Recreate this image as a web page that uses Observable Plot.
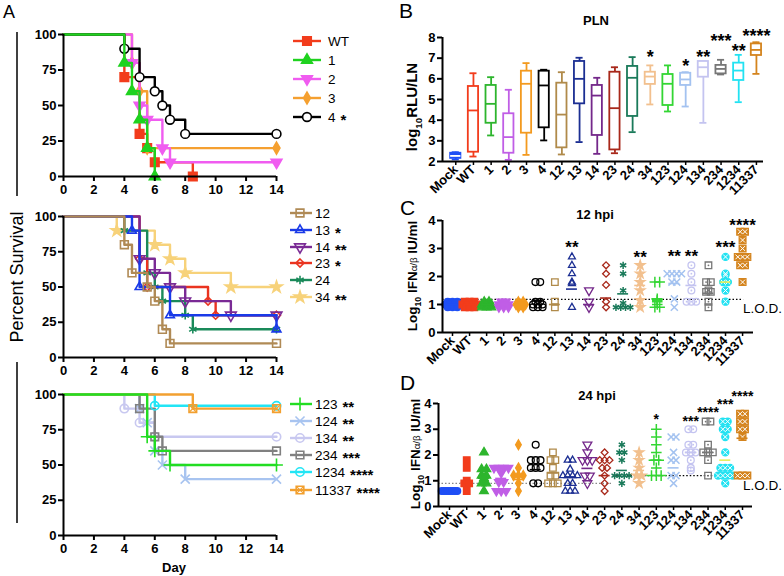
<!DOCTYPE html>
<html>
<head>
<meta charset="utf-8">
<script src="https://cdn.jsdelivr.net/npm/d3@7"></script>
<script src="https://cdn.jsdelivr.net/npm/@observablehq/plot@0.6"></script>
<style>
html,body{margin:0;padding:0;background:#fff;}
#root{position:relative;width:784px;height:576px;overflow:hidden;background:#fff;}
#root svg{position:absolute;left:0;top:0;}
</style>
</head>
<body>
<div id="root"></div>
<script>
// ================= DATA =================
// Panel A: survival curves, [day, percent survival]
const survWT    = [[0,100],[4,70],[5,30],[5.5,20],[6,10],[8.5,0]];
const surv1     = [[0,100],[4,80],[4.5,60],[5,40],[5.5,20],[6,0]];
const surv2     = [[0,100],[4.5,80],[5,50],[5.5,40],[6.5,20],[7,10],[14,10]];
const surv3     = [[0,100],[4.5,80],[5,60],[5.5,20],[14,20]];
const surv4     = [[0,100],[4,90],[5,70],[6,60],[6.5,50],[7,40],[8,30],[14,30]];
const surv12    = [[0,100],[4,80],[4.5,60],[5.5,50],[6,40],[6.5,20],[7,10],[14,10]];
const surv13    = [[0,100],[4.5,90],[5,50],[7,30],[14,20]];
const surv14    = [[0,100],[5,70],[6,60],[7,50],[8,40],[11,30],[14,30]];
const surv23    = [[0,100],[5,70],[5.5,50],[9.5,40],[10,30],[14,30]];
const surv24    = [[0,100],[4,90],[5.5,60],[6,50],[6.5,40],[8,30],[8.5,20],[14,20]];
const surv34    = [[0,100],[3.5,90],[6,80],[7,70],[8,60],[11,50],[14,50]];
const surv123   = [[0,100],[5.5,70],[6,60],[7,50],[14,50]];
const surv124   = [[0,100],[5,90],[5.5,80],[6,60],[6.5,50],[8,40],[14,40]];
const surv134   = [[0,100],[4,90],[5,80],[6,70],[14,70]];
const surv234   = [[0,100],[5,90],[6,70],[6.5,60],[14,60]];
const surv1234  = [[0,100],[6,92],[14,92]];
const surv11337 = [[0,100],[8.5,90],[14,90]];
const survTicksX = [0,2,4,6,8,10,12,14];
const survTicksY = [0,25,50,75,100];

// Panels B-D categories
const cats = ["Mock","WT","1","2","3","4","12","13","14","23","24","34","123","124","134","234","1234","11337"];

// Panel B: PLN log10 RLU/LN box plots
const boxMin = [2.10,2.24,3.26,2.08,2.32,3.02,2.34,2.94,2.37,2.40,3.42,4.76,4.42,4.66,3.87,6.21,4.87,6.24];
const boxQ1  = [2.15,2.45,3.85,2.40,3.37,3.63,2.66,4.79,3.26,2.56,4.18,5.73,4.71,5.68,6.08,6.24,5.92,7.13];
const boxMed = [2.27,4.47,4.79,3.18,5.76,5.68,4.27,6.00,5.19,4.58,6.05,6.11,5.76,5.97,6.56,6.48,6.40,7.40];
const boxQ3  = [2.40,5.63,5.68,4.31,6.37,6.37,5.79,6.84,5.68,6.32,6.60,6.32,6.21,6.27,6.84,6.65,6.76,7.69];
const boxMax = [2.45,6.27,6.08,5.47,6.76,6.44,6.32,7.02,6.05,6.56,7.05,6.65,6.65,6.32,6.84,6.92,7.16,7.77];
const starsBIdx  = [11,13,14,15,16,17];
const starsBText = ["*","*","**","***","**","****"];
const starsBY    = [7.22,6.79,7.22,8.0,7.52,8.24];

// Panel C: 12 hpi log10 IFN
const ifn12 = [
  [1.1,1.1,1.1,1.0,1.0,1.0,1.0,0.9,0.9,0.9],
  [1.1,1.1,1.1,1.0,1.0,1.0,1.0,0.9,0.9,0.9],
  [1.1,1.1,1.0,1.0,1.0,0.9,0.9,0.9],
  [1.1,1.1,1.0,1.0,1.0,0.9,0.9,0.9],
  [1.1,1.1,1.0,1.0,1.0,0.9,0.9],
  [1.8,1.8,1.1,1.1,1.0,1.0,1.0,0.9,0.9,0.9],
  [1.8,1.1,0.9],
  [2.7,2.4,2.1,1.8,1.75,0.9],
  [1.5,1.1,0.9],
  [2.4,2.1,1.7,1.1,0.9],
  [2.4,2.1,1.5,1.05,0.9,0.9,0.9,0.9],
  [2.4,2.1,1.8,1.5,1.15,0.9],
  [1.8,1.8,1.2,1.15,1.1,1.0,0.9,0.9],
  [2.1,2.1,2.1,2.1,1.8,1.8,1.2,0.9],
  [2.4,2.1,1.8,1.5,1.1,1.1,1.1],
  [2.4,1.8,1.8,1.5,1.45,1.45,1.1,0.9],
  [2.7,2.1,2.05,1.8,1.8,1.5,1.1],
  [3.6,3.6,3.3,3.0,2.7,2.7,2.7,2.4,2.4,1.8]
];
const ifn12Mean = [1.0,1.0,1.0,1.0,1.0,1.15,1.0,1.55,1.0,1.23,1.38,1.68,1.2,1.75,1.68,1.4,1.8,2.8];
const lod12 = 1.18;
const stars12Idx  = [7,11,13,14,16,17];
const stars12Text = ["**","**","**","**","***","****"];
const stars12Y    = [3.18,2.82,2.86,2.86,3.18,3.96];

// Panel D: 24 hpi log10 IFN
const ifn24 = [
  [0.6,0.6,0.6,0.6,0.6,0.6,0.6,0.6],
  [1.8,1.5,1.0,0.9,0.9,0.6],
  [2.1,1.45,1.45,1.2,1.2,1.1,0.9,0.9,0.6],
  [1.5,1.5,1.5,1.5,1.3,0.95,0.95,0.6,0.6,0.6],
  [2.4,1.5,1.2,1.2,1.2,0.9,0.6],
  [2.4,1.8,1.8,1.8,1.5,1.5,1.5,0.9,0.9],
  [2.1,1.8,1.8,1.5,1.2,1.2,0.9,0.9,0.9],
  [1.8,1.8,1.45,1.2,1.2,1.2,1.2,0.9,0.9,0.6,0.6,0.6],
  [2.4,2.1,1.8,1.8,1.8,1.2,1.2,0.9],
  [2.1,1.8,1.8,1.8,1.5,1.5,1.2,0.9,0.6],
  [2.4,2.1,2.1,1.8,1.2,1.2,1.2,1.2,0.9],
  [2.1,1.8,1.5,1.2,1.2,0.9],
  [3.0,2.7,2.4,2.1,1.8,1.8,1.5,1.2,1.2,1.2],
  [2.7,2.7,2.1,1.8,1.8,1.2,1.2,0.9],
  [3.0,3.0,2.4,2.4,2.1,2.1,2.1,1.8,1.5,1.4],
  [3.3,3.3,2.4,2.1,2.1,2.1,1.8,1.2],
  [3.3,3.3,3.0,3.0,2.7,2.1,1.5,1.5,1.5,1.2,1.2,1.2,1.2,0.9],
  [3.6,3.6,3.3,3.3,3.0,3.0,2.7,1.2,1.2,1.2]
];
const ifn24Mean = [0.6,0.93,1.1,1.09,1.05,1.43,1.3,1.15,1.48,1.2,1.4,1.4,1.8,1.5,2.1,2.1,1.8,2.65];
const lod24 = [0.9, 1.2];          // two detection limits
const lod24Split = 9.5;            // category boundary between the two limits
const stars24Idx  = [12,14,15,16,17];
const stars24Text = ["*","***","****","***","****"];
const stars24Y    = [3.53,3.46,3.8,4.1,4.42];

// ================= STYLE =================
const FONT = "'Liberation Sans', Arial, Helvetica, sans-serif";
const triDown = {draw(ctx, size){ const s3=Math.sqrt(3); const y=-Math.sqrt(size/(3*s3)); ctx.moveTo(0,-2*y); ctx.lineTo(-s3*y,y); ctx.lineTo(s3*y,y); ctx.closePath(); }};

const catColor = ["#1f4ff5","#f23c1c","#2db52d","#c05ee6","#f39a1f","#000000","#b08a4a","#1c2f93","#74288a","#a8281a","#1a7a5a","#f2c08e","#33d633","#a3c2f0","#c4c4f0","#777777","#22e2f2","#d4841e"];
const meanColor = catColor.map((c,i)=> cats[i]==="1234" ? "#e4ee5a" : c);
const catSym = [d3.symbolCircle,d3.symbolSquare,d3.symbolTriangle,triDown,d3.symbolDiamond,d3.symbolCircle,d3.symbolSquare,d3.symbolTriangle2,triDown,d3.symbolDiamond2,d3.symbolAsterisk,d3.symbolStar,d3.symbolPlus,d3.symbolTimes,d3.symbolCircle,d3.symbolSquare,d3.symbolCircle,d3.symbolSquare];
const catR   = [3.4,3.7,3.2,3.2,3.0,3.4,3.7,3.3,3.3,3.1,3.4,3.0,3.5,3.3,3.4,3.7,3.5,3.8];
const catFilled = [1,1,1,1,1,0,0,0,0,0,0,1,0,0,0,0,1,1];
const catInner = {"134":"dot","234":"dot","1234":"times","11337":"times"};

const seriesTop = [
  {name:"WT", data:survWT, color:"#f23c1c", sym:d3.symbolSquare, fill:"c", r:4.8, stars:""},
  {name:"1",  data:surv1,  color:"#1fd21f", sym:d3.symbolTriangle, fill:"c", r:4.0, stars:""},
  {name:"2",  data:surv2,  color:"#f05cf0", sym:triDown, fill:"c", r:4.0, stars:""},
  {name:"3",  data:surv3,  color:"#f5a030", sym:d3.symbolDiamond, fill:"c", r:3.6, stars:""},
  {name:"4",  data:surv4,  color:"#000000", sym:d3.symbolCircle, fill:"white", r:4.4, stars:"*"}
];
const orderTop = ["WT","3","2","4","1"];
const seriesMid = [
  {name:"12", data:surv12, color:"#b08a55", sym:d3.symbolSquare, fill:"none", r:4.4, stars:""},
  {name:"13", data:surv13, color:"#1a3ae8", sym:d3.symbolTriangle2, fill:"none", r:4.2, stars:"*"},
  {name:"14", data:surv14, color:"#7a2a95", sym:triDown, fill:"none", r:4.0, stars:"**"},
  {name:"23", data:surv23, color:"#ea3420", sym:d3.symbolDiamond2, fill:"none", r:3.6, stars:"*"},
  {name:"24", data:surv24, color:"#1a8a5a", sym:d3.symbolAsterisk, fill:"none", r:4.0, stars:""},
  {name:"34", data:surv34, color:"#f7d27a", sym:d3.symbolStar, fill:"c", r:3.6, stars:"**"}
];
const orderMid = ["34","24","23","14","13","12"];
const seriesBot = [
  {name:"123",  data:surv123,  color:"#22dd22", sym:d3.symbolPlus, fill:"none", r:4.2, stars:"**"},
  {name:"124",  data:surv124,  color:"#a8c4f0", sym:d3.symbolTimes, fill:"none", r:4.2, stars:"**"},
  {name:"134",  data:surv134,  color:"#c8c8f0", sym:d3.symbolCircle, fill:"none", r:4.2, stars:"**"},
  {name:"234",  data:surv234,  color:"#808080", sym:d3.symbolSquare, fill:"none", r:4.3, stars:"***"},
  {name:"1234", data:surv1234, color:"#22e5f5", sym:d3.symbolCircle, fill:"none", r:4.2, stars:"****"},
  {name:"11337",data:surv11337,color:"#f2a030", sym:d3.symbolSquare, fill:"none", r:4.3, stars:"****", inner:true}
];
const orderBot = ["124","134","234","1234","11337","123"];

const root = document.getElementById("root");
function base(L,R,T,B){
  return {width:784,height:576,marginLeft:L,marginRight:784-R,marginTop:T,marginBottom:576-B,
    color:{type:"identity"},
    style:{background:"transparent",overflow:"visible",fontFamily:FONT,fontSize:"13px",fontWeight:"bold",color:"#000"}};
}
const axisTxt = {fontSize:13, fontWeight:"bold", fontFamily:FONT};
const intFmt = d => String(d);

// ================= PANEL A =================
function survivalPlot(series, order, L,R,T,B){
  const marks = [];
  for (const n of order){
    const s = series.find(d=>d.name===n);
    marks.push(Plot.line(s.data,{x:d=>d[0],y:d=>d[1],curve:"step-after",stroke:s.color,strokeWidth:2.4}));
    const pts = s.data.slice(1);
    marks.push(Plot.dot(pts,{x:d=>d[0],y:d=>d[1],symbol:s.sym,r:s.r,
      fill:s.fill==="c"?s.color:s.fill,stroke:s.color,strokeWidth:1.6}));
    if (s.inner) marks.push(Plot.dot(pts,{x:d=>d[0],y:d=>d[1],symbol:d3.symbolTimes,r:3.0,stroke:s.color,strokeWidth:1.2}));
  }
  marks.push(
    Plot.ruleX([0],{stroke:"#000",strokeWidth:2}),
    Plot.ruleY([0],{stroke:"#000",strokeWidth:2}),
    Plot.axisY({ticks:survTicksY,tickFormat:intFmt,tickSize:5,tickPadding:2,strokeWidth:2,label:null,...axisTxt}),
    Plot.axisX({ticks:survTicksX,tickFormat:intFmt,tickSize:5,tickPadding:3,strokeWidth:2,label:null,...axisTxt})
  );
  return Plot.plot({...base(L,R,T,B),x:{domain:[0,14]},y:{domain:[0,100]},marks});
}
root.append(survivalPlot(seriesTop,orderTop,63,276,34,176));
root.append(survivalPlot(seriesMid,orderMid,63,276,216,357));
root.append(survivalPlot(seriesBot,orderBot,63,276,394,535));

// ================= PANEL B =================
{
  const rows = cats.map((c,i)=>({i,min:boxMin[i],q1:boxQ1[i],med:boxMed[i],q3:boxQ3[i],max:boxMax[i]}));
  const stars = starsBIdx.map((i,k)=>({i,y:starsBY[k],t:starsBText[k]}));
  const xd = [-0.75,17.4];
  const hw = 0.29, cw = 0.2;
  const col = d=>catColor[d.i];
  root.append(Plot.plot({...base(442,763,37,161),x:{domain:xd},y:{domain:[2,8]},marks:[
    Plot.ruleX(rows,{x:"i",y1:"min",y2:"q1",stroke:col,strokeWidth:1.8}),
    Plot.ruleX(rows,{x:"i",y1:"q3",y2:"max",stroke:col,strokeWidth:1.8}),
    Plot.ruleY(rows,{y:"min",x1:d=>d.i-cw,x2:d=>d.i+cw,stroke:col,strokeWidth:1.8}),
    Plot.ruleY(rows,{y:"max",x1:d=>d.i-cw,x2:d=>d.i+cw,stroke:col,strokeWidth:1.8}),
    Plot.rect(rows,{x1:d=>d.i-hw,x2:d=>d.i+hw,y1:"q1",y2:"q3",fill:d=>d.i===0?catColor[0]:"white",stroke:col,strokeWidth:1.8}),
    Plot.ruleY(rows,{y:"med",x1:d=>d.i-hw,x2:d=>d.i+hw,stroke:d=>d.i===0?"white":catColor[d.i],strokeWidth:1.8}),
    Plot.ruleX([xd[0]],{stroke:"#000",strokeWidth:2}),
    Plot.ruleY([2],{stroke:"#000",strokeWidth:2}),
    Plot.axisY({ticks:[2,3,4,5,6,7,8],tickFormat:intFmt,tickSize:5,tickPadding:2,strokeWidth:2,label:null,...axisTxt}),
    Plot.axisX({ticks:d3.range(cats.length),tickFormat:i=>cats[i],tickRotate:-45,tickSize:4,tickPadding:2,strokeWidth:1.5,label:null,...axisTxt}),
    Plot.text(stars,{x:"i",y:"y",text:"t",fontSize:18,fontWeight:"bold",dy:4})
  ]}));
}

// ================= PANELS C & D =================
function spreadRows(valsList){
  const rows = [];
  valsList.forEach((vals,i)=>{
    for (const [v,arr] of d3.groups(vals,v=>v)){
      const k = arr.length;
      const step = k>1 ? Math.min(0.28,0.9/(k-1)) : 0;
      arr.forEach((_,j)=>rows.push({i,x:i+(j-(k-1)/2)*step,y:v}));
    }
  });
  return rows;
}
function scatterPlot(valsList, means, lodRules, stars, xd, L,R,T,B, starSize){
  const rows = spreadRows(valsList);
  const marks = [];
  for (const lr of lodRules) marks.push(Plot.ruleY([lr],{y:"y",x1:"x1",x2:"x2",stroke:lr.c,strokeWidth:1.2,strokeDasharray:"1.5,2"}));
  cats.forEach((c,i)=>{
    const pts = rows.filter(d=>d.i===i);
    const sym = catSym[i];
    const isLine = sym===d3.symbolAsterisk||sym===d3.symbolPlus||sym===d3.symbolTimes;
    marks.push(Plot.dot(pts,{x:"x",y:"y",symbol:sym,r:catR[i],
      fill:catFilled[i]?catColor[i]:"none",stroke:catColor[i],strokeWidth:isLine?1.5:1.3}));
    if (catInner[c]==="dot") marks.push(Plot.dot(pts,{x:"x",y:"y",r:0.9,fill:catColor[i]}));
    if (catInner[c]==="times") marks.push(Plot.dot(pts,{x:"x",y:"y",symbol:d3.symbolTimes,r:2.3,stroke:"white",strokeWidth:1}));
  });
  const mrows = means.map((m,i)=>({i,m}));
  marks.push(Plot.ruleY(mrows,{y:"m",x1:d=>d.i-0.32,x2:d=>d.i+0.32,stroke:d=>meanColor[d.i],strokeWidth:1.6}));
  marks.push(
    Plot.ruleX([xd[0]],{stroke:"#000",strokeWidth:2}),
    Plot.ruleY([0],{stroke:"#000",strokeWidth:2}),
    Plot.axisY({ticks:[0,1,2,3,4],tickFormat:intFmt,tickSize:5,tickPadding:2,strokeWidth:2,label:null,...axisTxt}),
    Plot.axisX({ticks:d3.range(cats.length),tickFormat:i=>cats[i],tickRotate:-45,tickSize:4,tickPadding:2,strokeWidth:1.5,label:null,...axisTxt}),
    Plot.text(stars,{x:"i",y:"y",text:"t",fontSize:starSize,fontWeight:"bold",dy:4,ariaLabel:"stars"})
  );
  return Plot.plot({...base(L,R,T,B),x:{domain:xd},y:{domain:[0,4]},marks});
}
{
  const xd = [-0.586,17.64];
  const lodRules = [{y:lod12,x1:xd[0],x2:cats.length-1+0.06,c:"#000"}];
  const stars = stars12Idx.map((i,k)=>({i,y:stars12Y[k],t:stars12Text[k]}));
  root.append(scatterPlot(ifn12,ifn12Mean,lodRules,stars,xd,442,753,220,332,17));
}
{
  const xd = [-0.638,17.58];
  const lodRules = [{y:lod24[0],x1:xd[0],x2:lod24Split,c:"#888"},{y:lod24[1],x1:lod24Split,x2:cats.length-1+0.06,c:"#000"}];
  const stars = stars24Idx.map((i,k)=>({i,y:stars24Y[k],t:stars24Text[k]}));
  const svgD = scatterPlot(ifn24,ifn24Mean,lodRules,stars,xd,438,752,403,506,14);
  d3.select(svgD).selectAll('g[aria-label="stars"] text').attr("letter-spacing","-0.9px");
  root.append(svgD);
}

// ================= TEXT / LEGENDS =================
const ov = d3.select(root).append("svg").attr("width",784).attr("height",576)
  .style("font-family",FONT).style("overflow","visible");
function txt(x,y,s,o={}){
  const t = ov.append("text").attr("x",x).attr("y",y).text(s)
    .attr("font-size",o.size||13).attr("font-weight",o.weight||"normal")
    .attr("text-anchor",o.anchor||"start").attr("fill","#000");
  if (o.rot) t.attr("transform",`rotate(${o.rot},${x},${y})`);
  return t;
}
// panel letters
txt(3,18,"A",{size:18});
txt(399,18,"B",{size:21});
txt(400,215,"C",{size:21});
txt(400,390,"D",{size:21});
// titles
txt(596,25,"PLN",{size:13,weight:"bold",anchor:"middle"});
txt(595,219,"12 hpi",{size:13,weight:"bold",anchor:"middle"});
txt(597,400,"24 hpi",{size:13,weight:"bold",anchor:"middle"});
// Panel A axis titles and bracket lines
ov.append("line").attr("x1",17).attr("x2",17).attr("y1",32).attr("y2",196).attr("stroke","#000").attr("stroke-width",1.5);
ov.append("line").attr("x1",17).attr("x2",17).attr("y1",362).attr("y2",523).attr("stroke","#000").attr("stroke-width",1.5);
txt(23,277,"Percent Survival",{size:18,anchor:"middle",rot:-90});
txt(174,572,"Day",{size:13,weight:"bold",anchor:"middle"});
// y titles B-D
function ylab(x,y,main,sub,rest,size,greek){
  const t = ov.append("text").attr("x",x).attr("y",y).attr("font-size",size).attr("font-weight","bold")
    .attr("text-anchor","middle").attr("transform",`rotate(-90,${x},${y})`);
  t.append("tspan").text(main);
  t.append("tspan").text(sub).attr("font-size",size*0.65).attr("dy",size*0.3);
  if (greek){
    t.append("tspan").text(" IFN").attr("dy",-size*0.3);
    t.append("tspan").text(greek).attr("font-size",size*0.72).attr("font-weight","normal");
    t.append("tspan").text(rest);
  } else {
    t.append("tspan").text(rest).attr("dy",-size*0.3);
  }
}
ylab(417,107,"log","10","RLU/LN",15);
ylab(417,276,"Log","10"," IU/ml",13.5,"α/β");
ylab(420,454,"Log","10"," IU/ml",13.5,"α/β");
txt(743,313,"L.O.D.",{size:13.5});
txt(743,490,"L.O.D.",{size:13.5});

// legends
function legend(series, ys, lx0, lx1, mx, tx){
  series.forEach((s,k)=>{
    const y = ys[k];
    ov.append("line").attr("x1",lx0).attr("x2",lx1).attr("y1",y).attr("y2",y).attr("stroke",s.color).attr("stroke-width",2.4);
    const size = Math.PI*s.r*s.r;
    ov.append("path").attr("d",d3.symbol(s.sym,size)()).attr("transform",`translate(${mx},${y})`)
      .attr("fill",s.fill==="c"?s.color:s.fill).attr("stroke",s.color).attr("stroke-width",1.6);
    if (s.inner) ov.append("path").attr("d",d3.symbol(d3.symbolTimes,Math.PI*3.0*3.0)()).attr("transform",`translate(${mx},${y})`)
      .attr("fill","none").attr("stroke",s.color).attr("stroke-width",1.2);
    const t = txt(tx,y+4.6,s.name,{size:13.5});
    if (s.stars){
      const w = t.node().getComputedTextLength();
      txt(tx+w+5,y+8,s.stars,{size:15,weight:"bold"});
    }
  });
}
legend(seriesTop,[41,60,79,98,117],293,321,307,328);
legend(seriesMid,[213,230,247,263,280,297],290,312,300,315);
legend(seriesBot,[404,421,438,455,472,490],290,312,300,315);
</script>
</body>
</html>
